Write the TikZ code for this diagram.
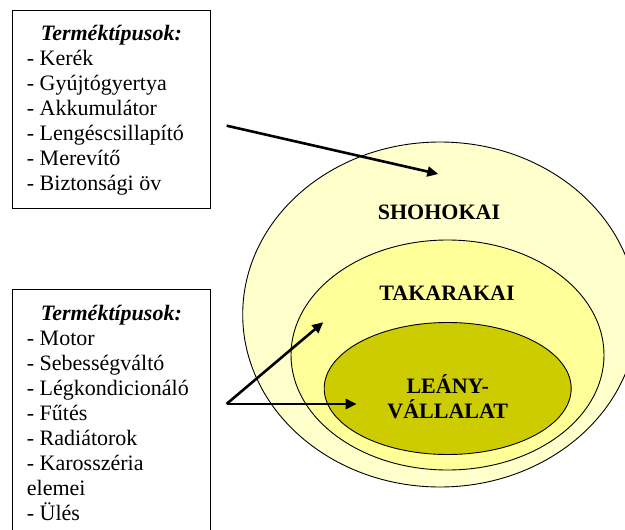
\documentclass[tikz,border=0pt]{standalone}
\usepackage{fontspec}
\setmainfont{Liberation Serif}
\usetikzlibrary{shapes.geometric,arrows.meta}
\definecolor{outerfill}{HTML}{FFFFCC}
\definecolor{midfill}{HTML}{FFFF99}
\definecolor{innerfill}{HTML}{CCCC00}
\tikzset{
  listbox/.style={draw=black, line width=0.9pt, rectangle, inner sep=0pt,
    minimum width=197.3pt},
  ring/.style={draw=black, line width=0.9pt, ellipse, inner sep=0pt},
  item/.style={anchor=base west, inner sep=0pt, font=\fontsize{22}{25}\selectfont},
  head/.style={anchor=base, inner sep=0pt,
    font=\fontsize{22}{25}\selectfont\bfseries\itshape},
  label/.style={anchor=base, inner sep=0pt,
    font=\fontsize{22}{25}\selectfont\bfseries},
  arr/.style={line width=2.6pt, -{Triangle[length=11pt,width=10pt]}}
}
\begin{document}
\begin{tikzpicture}[x=1pt,y=1pt]
\useasboundingbox (0,0) rectangle (625,-530);
\clip (0,0) rectangle (625,-530);
\fill[white] (0,0) rectangle (625,-530);

% nested ellipses
\node[ring, fill=outerfill, minimum width=394.6pt, minimum height=345pt] (outer) at (440,-314.5) {};
\node[ring, fill=midfill, minimum width=313pt, minimum height=230pt] (middle) at (447.5,-355) {};
\node[ring, fill=innerfill, minimum width=247pt, minimum height=132pt] (inner) at (447.7,-388.5) {};

\node[label] (shohokai) at (439,-219.3) {SHOHOKAI};
\node[label] (takarakai) at (447,-300) {TAKARAKAI};
\node[label] (leany) at (447.7,-393) {LEÁNY-};
\node[label] (vallalat) at (447.7,-418.7) {VÁLLALAT};

% product type lists
\node[listbox, minimum height=198pt] (boxA) at (111.35,-109) {};
\node[head] (headA) at (111.35,-40) {Terméktípusok:};
\foreach \t [count=\i] in {- Kerék, - Gyújtógyertya, - Akkumulátor,
    - Lengéscsillapító, - Merevítő, - Biztonsági öv}
  \node[item] (a\i) at (26.7,{-40-25*\i}) {\t};

\node[listbox, minimum height=262pt] (boxB) at (111.35,-420) {};
\node[head] (headB) at (111.35,-320) {Terméktípusok:};
\foreach \t [count=\i] in {- Motor, - Sebességváltó, - Légkondicionáló,
    - Fűtés, - Radiátorok, - Karosszéria, elemei, - Ülés}
  \node[item] (b\i) at (26.7,{-320-25*\i}) {\t};

% arrows
\coordinate (fromA) at (226.7,-125.7);
\coordinate (toOuter) at (438.3,-174);
\coordinate (fromB) at (226.5,-404);
\coordinate (toMiddle) at (323.3,-322.2);
\coordinate (toInner) at (356.7,-404);
\draw[arr] (fromA) -- (toOuter);
\draw[arr] (fromB) -- (toMiddle);
\draw[arr] (fromB) -- (toInner);
\end{tikzpicture}
\end{document}
